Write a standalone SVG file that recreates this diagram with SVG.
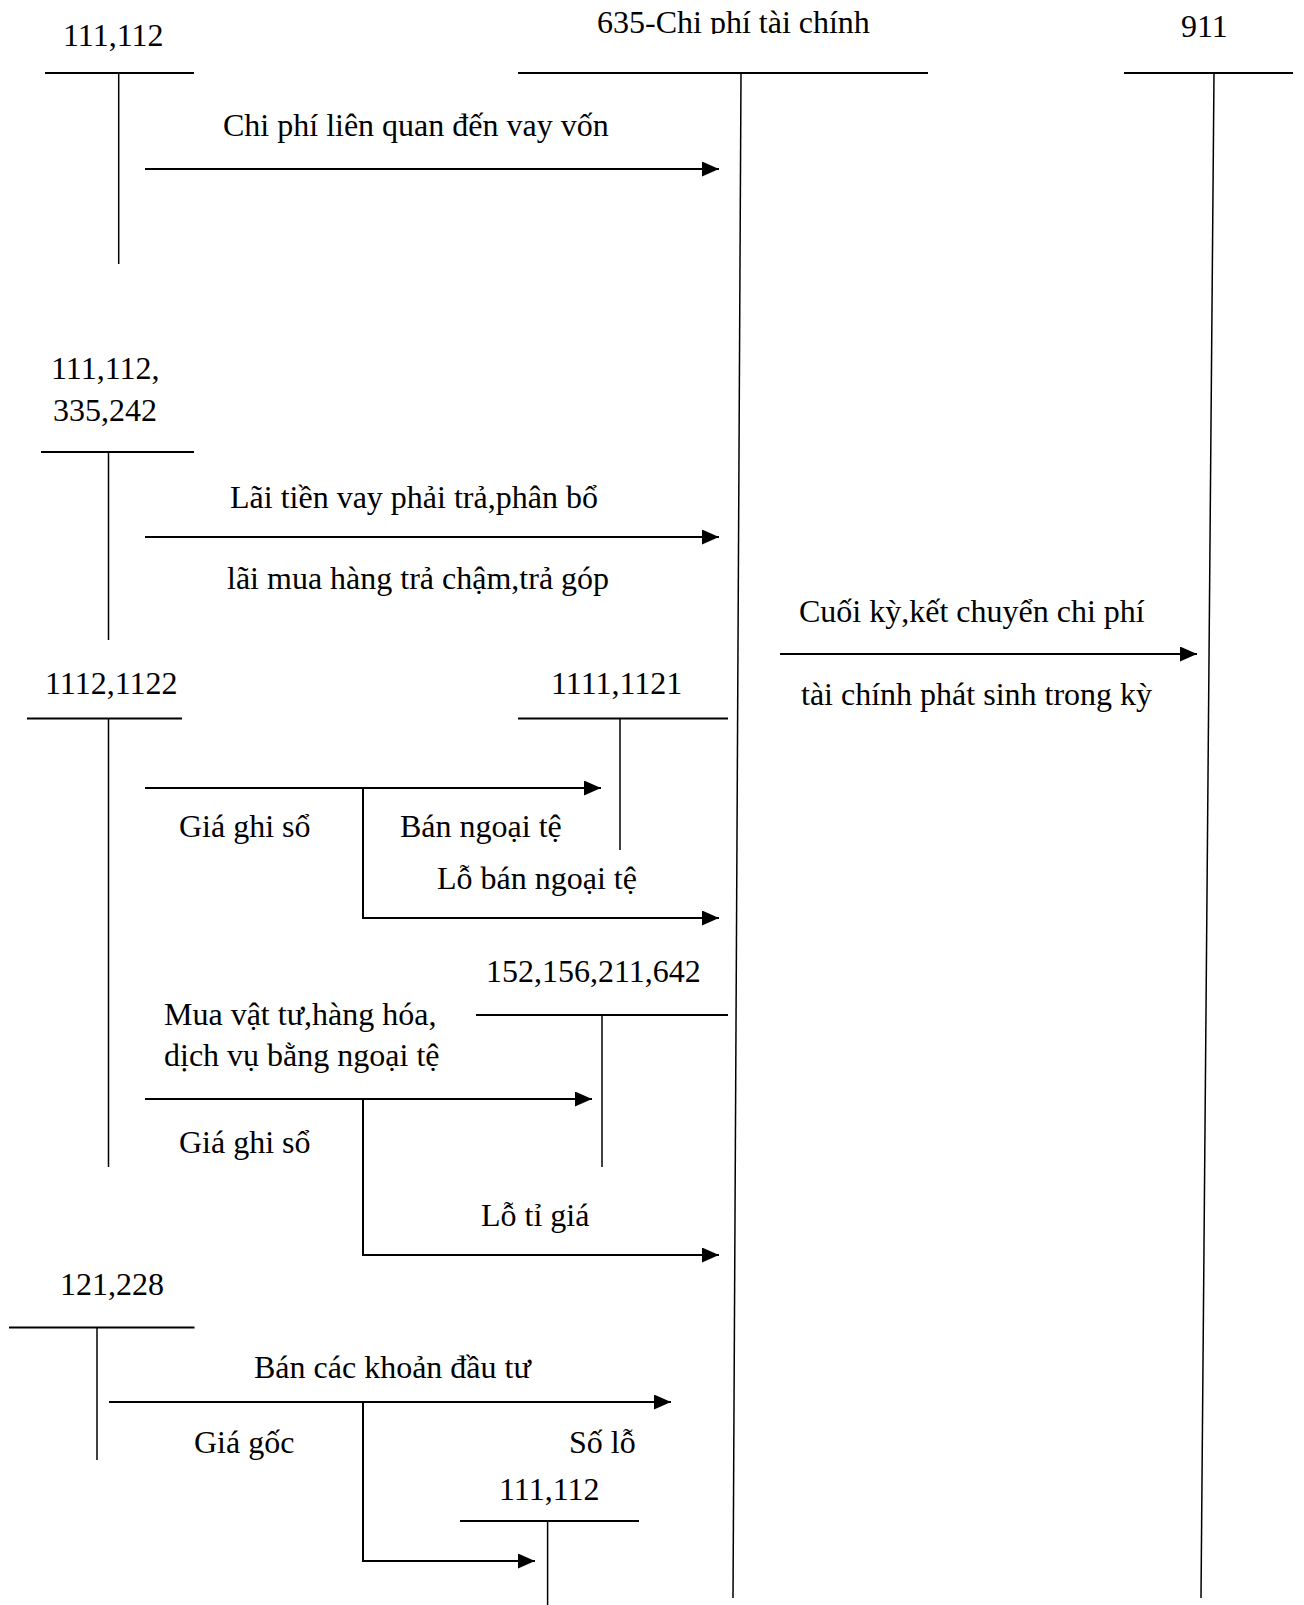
<svg xmlns="http://www.w3.org/2000/svg" width="1304" height="1605" viewBox="0 0 1304 1605">
<style>
text{font-family:"Liberation Serif","Times New Roman",serif;font-size:32px;fill:#000}
.h{stroke:#000;stroke-width:2;fill:none}
.v{stroke:#000;stroke-width:1.5;fill:none}
.c{stroke:#000;stroke-width:2;fill:none;marker-end:url(#ah)}
</style>
<defs>
<marker id="ah" markerUnits="userSpaceOnUse" markerWidth="18" markerHeight="16" refX="17" refY="7.5" orient="auto">
<path d="M0,0 L17,7.5 L0,15 z" fill="#000"/>
</marker>
<clipPath id="topclip"><rect x="0" y="0" width="1304" height="34"/></clipPath>
</defs>
<rect width="1304" height="1605" fill="#fff"/>

<g id="acc-111-112-top">
<text x="63" y="46">111,112</text>
<line class="h" x1="45" y1="73" x2="194" y2="73"/>
<line class="v" x1="118.7" y1="73" x2="118.7" y2="264"/>
</g>

<g id="acc-635">
<text x="597" y="33" clip-path="url(#topclip)">635-Chi phí tài chính</text>
<line class="h" x1="518" y1="73" x2="928" y2="73"/>
<line class="v" x1="741" y1="73" x2="733" y2="1598"/>
</g>

<g id="acc-911">
<text x="1181" y="37">911</text>
<line class="h" x1="1124" y1="73" x2="1293" y2="73"/>
<line class="v" x1="1214" y1="73" x2="1201" y2="1598"/>
</g>

<g id="acc-111-112-335-242">
<text x="51" y="379">111,112,</text>
<text x="53" y="421">335,242</text>
<line class="h" x1="41" y1="452" x2="194" y2="452"/>
<line class="v" x1="108.5" y1="452" x2="108.5" y2="640"/>
</g>

<g id="acc-1112-1122">
<text x="45" y="694">1112,1122</text>
<line class="h" x1="27" y1="718.5" x2="182" y2="718.5"/>
<line class="v" x1="108.5" y1="718.5" x2="108.5" y2="1167"/>
</g>

<g id="acc-1111-1121">
<text x="551" y="694">1111,1121</text>
<line class="h" x1="518" y1="718.5" x2="728" y2="718.5"/>
<line class="v" x1="620" y1="718.5" x2="620" y2="850"/>
</g>

<g id="acc-152-156-211-642">
<text x="486" y="982">152,156,211,642</text>
<line class="h" x1="476" y1="1015" x2="728" y2="1015"/>
<line class="v" x1="602" y1="1015" x2="602" y2="1167"/>
</g>

<g id="acc-121-228">
<text x="60" y="1295">121,228</text>
<line class="h" x1="9" y1="1327.5" x2="194.5" y2="1327.5"/>
<line class="v" x1="97" y1="1327.5" x2="97" y2="1460"/>
</g>

<g id="acc-111-112-bottom">
<text x="499" y="1500">111,112</text>
<line class="h" x1="460" y1="1521" x2="639" y2="1521"/>
<line class="v" x1="547.6" y1="1521" x2="547.6" y2="1605"/>
</g>

<g id="connectors">
<line class="c" x1="145" y1="169" x2="719" y2="169"/>
<line class="c" x1="145" y1="537" x2="719" y2="537"/>
<line class="c" x1="780" y1="654" x2="1197" y2="654"/>
<line class="c" x1="145" y1="788" x2="601" y2="788"/>
<polyline class="c" points="363,788 363,918 719,918"/>
<line class="c" x1="145" y1="1099" x2="592" y2="1099"/>
<polyline class="c" points="363,1099 363,1255 719,1255"/>
<line class="c" x1="109" y1="1402" x2="671" y2="1402"/>
<polyline class="c" points="363,1402 363,1561 535,1561"/>
</g>

<g id="labels">
<text x="223" y="136">Chi phí liên quan đến vay vốn</text>
<text x="230" y="508">Lãi tiền vay phải trả,phân bổ</text>
<text x="227" y="589">lãi mua hàng trả chậm,trả góp</text>
<text x="799" y="622">Cuối kỳ,kết chuyển chi phí</text>
<text x="801" y="705">tài chính phát sinh trong kỳ</text>
<text x="179" y="837">Giá ghi sổ</text>
<text x="400" y="837">Bán ngoại tệ</text>
<text x="437" y="889">Lỗ bán ngoại tệ</text>
<text x="164" y="1025">Mua vật tư,hàng hóa,</text>
<text x="164" y="1066">dịch vụ bằng ngoại tệ</text>
<text x="179" y="1153">Giá ghi sổ</text>
<text x="481" y="1226">Lỗ tỉ giá</text>
<text x="254" y="1378">Bán các khoản đầu tư</text>
<text x="194" y="1453">Giá gốc</text>
<text x="569" y="1453">Số lỗ</text>
</g>
</svg>
